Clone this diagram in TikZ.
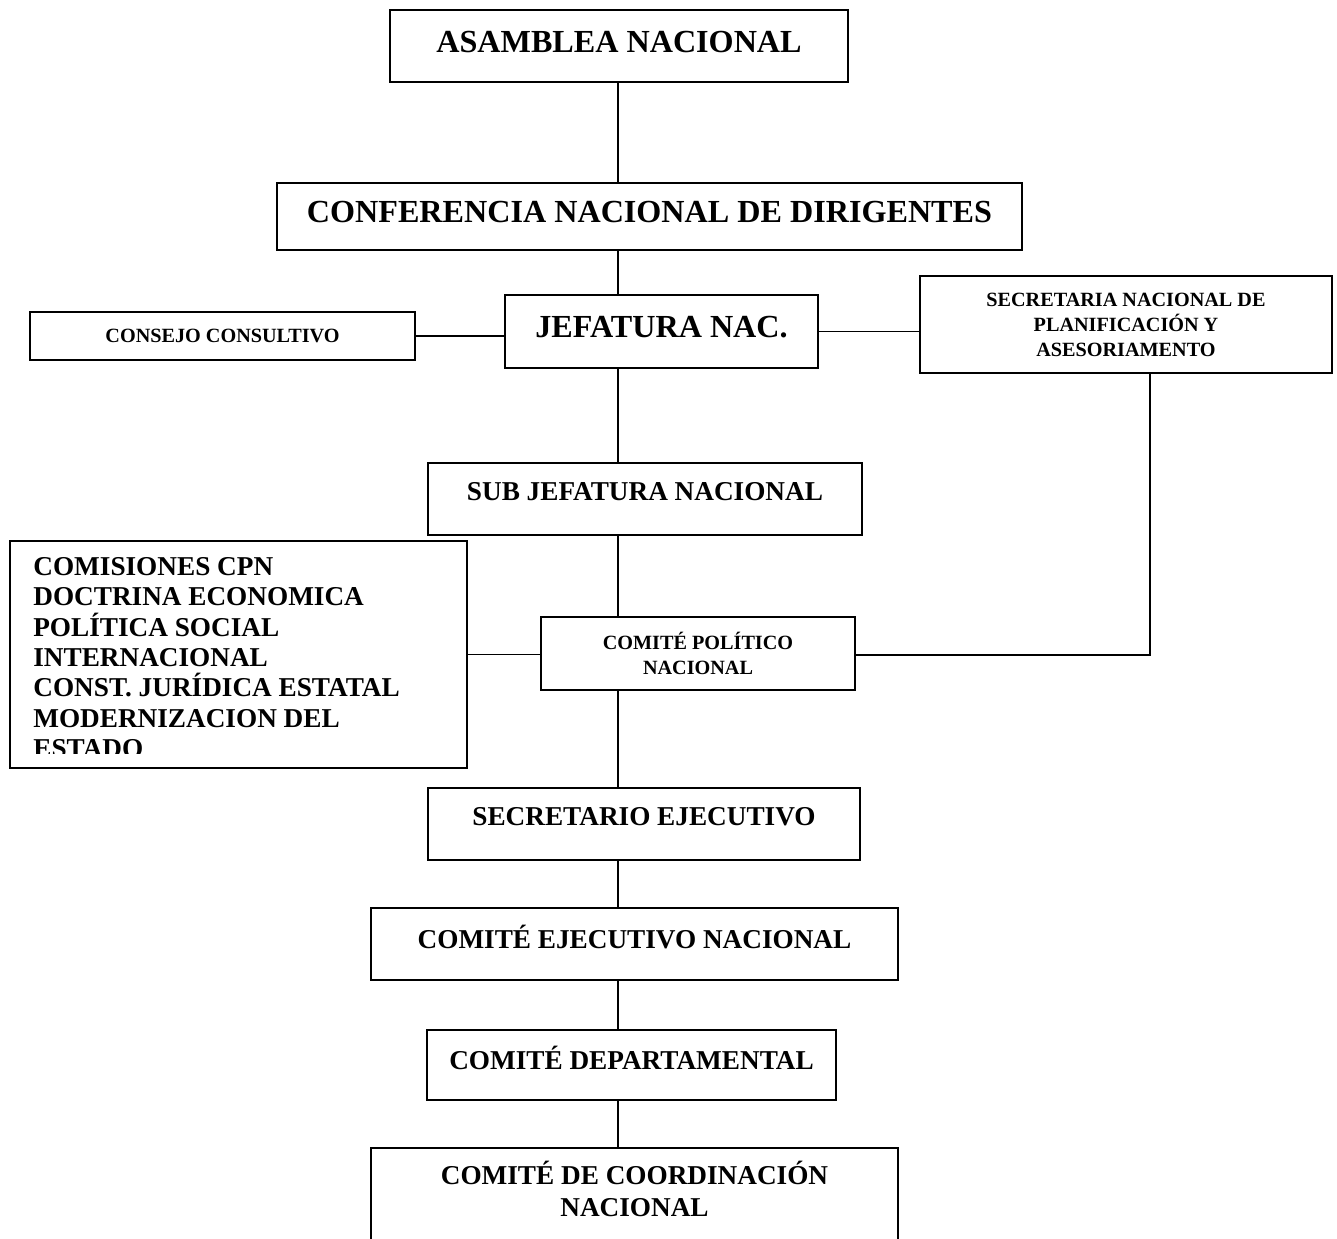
\documentclass[tikz,border=0pt]{standalone}
\usepackage{fontspec}
\setmainfont{Liberation Serif}

\begin{document}
\begin{tikzpicture}[x=0.02cm, y=-0.02cm,
  box/.style={draw, line width=1.1pt, align=center, inner sep=0pt},
  big/.style={font=\fontsize{18.3}{22}\selectfont\bfseries, text depth=0.18cm},
  mid/.style={font=\fontsize{15.5}{18}\selectfont\bfseries, text depth=0.3cm},
  small/.style={font=\fontsize{11.5}{14.2}\selectfont\bfseries},
  link/.style={line width=1pt}]

\clip (0,0) rectangle (1337,1238);

\coordinate (spine) at (618,0);
\coordinate (corner) at (1150,655);

\node[box, big, minimum width=9.16cm, minimum height=1.44cm] (asamblea) at (619,46) {ASAMBLEA NACIONAL};
\node[box, big, minimum width=14.9cm, minimum height=1.34cm] (conferencia) at (649.5,216.5) {CONFERENCIA NACIONAL DE DIRIGENTES};
\node[box, big, minimum width=6.26cm, minimum height=1.46cm] (jefatura) at (661.5,331.5) {JEFATURA NAC.};
\node[box, small, minimum width=7.7cm, minimum height=0.96cm] (consejo) at (222.5,336) {CONSEJO CONSULTIVO};
\node[box, small, minimum width=8.24cm, minimum height=1.94cm] (secretaria) at (1126,324.5) {SECRETARIA NACIONAL DE\\PLANIFICACIÓN Y\\ASESORIAMENTO};
\node[box, mid, minimum width=8.68cm, minimum height=1.44cm] (subjefatura) at (645,499) {SUB JEFATURA NACIONAL};
\node[box, small, minimum width=6.28cm, minimum height=1.46cm] (cpn) at (698,653.5) {COMITÉ POLÍTICO\\NACIONAL};
\node[box, minimum width=9.14cm, minimum height=4.54cm] (comisiones) at (238.5,654.5) {};
\node[box, mid, minimum width=8.64cm, minimum height=1.44cm] (secretario) at (644,824) {SECRETARIO EJECUTIVO};
\node[box, mid, minimum width=10.54cm, minimum height=1.44cm] (ejecutivo) at (634.5,944) {COMITÉ EJECUTIVO NACIONAL};
\node[box, mid, minimum width=8.18cm, minimum height=1.4cm] (departamental) at (631.5,1065) {COMITÉ DEPARTAMENTAL};
\node[box, mid, text depth=0.4cm, minimum width=10.54cm, minimum height=2.04cm] (coordinacion) at (634.5,1199) {COMITÉ DE COORDINACIÓN\\NACIONAL};

% list of commissions, cut off by the box
\begin{scope}
\clip (12,543) rectangle (465,753);
\node[mid, align=left, anchor=north west, inner sep=0pt,
  font=\fontsize{15.5}{17.3}\selectfont\bfseries] (comtext) at (33,557)
  {COMISIONES CPN\\DOCTRINA ECONOMICA\\POLÍTICA SOCIAL\\INTERNACIONAL\\CONST. JURÍDICA ESTATAL\\MODERNIZACION DEL\\ESTADO};
\end{scope}

\draw[link] (asamblea.south -| spine) -- (conferencia.north -| spine);
\draw[link] (conferencia.south -| spine) -- (jefatura.north -| spine);
\draw[link] (jefatura.south -| spine) -- (subjefatura.north -| spine);
\draw[link] (subjefatura.south -| spine) -- (cpn.north -| spine);
\draw[link] (cpn.south -| spine) -- (secretario.north -| spine);
\draw[link] (secretario.south -| spine) -- (ejecutivo.north -| spine);
\draw[link] (ejecutivo.south -| spine) -- (departamental.north -| spine);
\draw[link] (departamental.south -| spine) -- (coordinacion.north -| spine);

\draw[link] (consejo.east) -- (consejo.east -| jefatura.west);
\draw[link] (jefatura.east) -- (jefatura.east -| secretaria.west);
\draw[link] (comisiones.east) -- (comisiones.east -| cpn.west);
\draw[link] (cpn.east |- corner) -- (corner) -- (corner |- secretaria.south);
\end{tikzpicture}
\end{document}
